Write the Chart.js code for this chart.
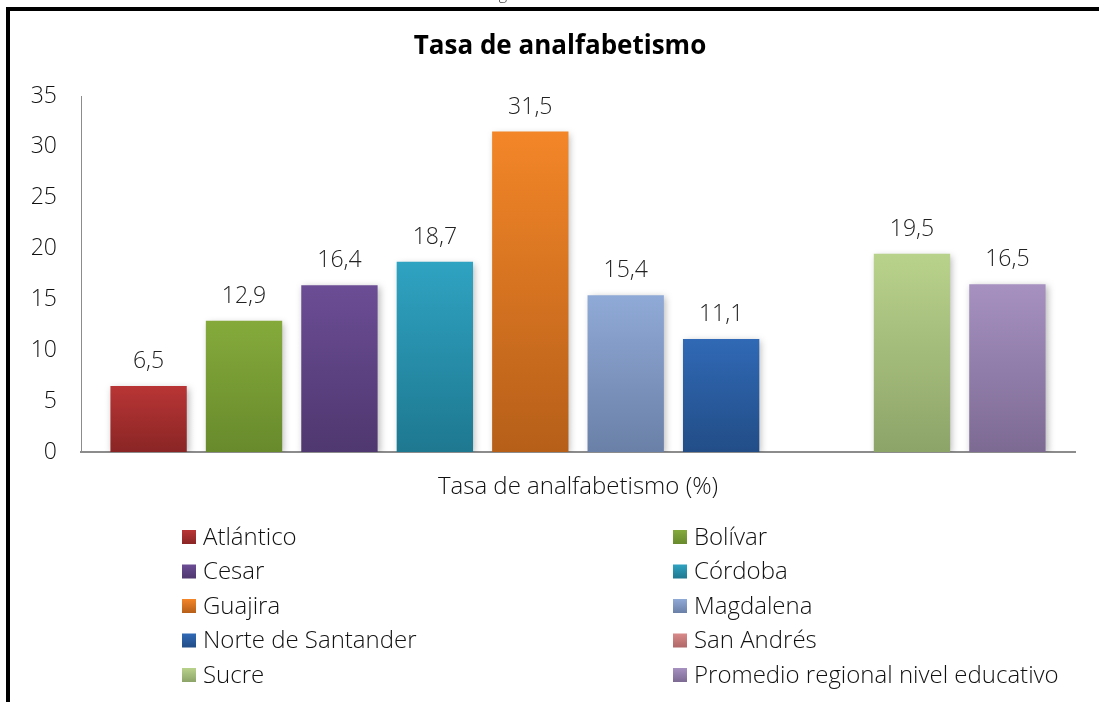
<!DOCTYPE html>
<html><head><meta charset="utf-8">
<script src="https://cdn.jsdelivr.net/npm/chart.js@4/dist/chart.umd.min.js"></script>
<style>html,body{margin:0;padding:0;background:#fff}#wrap{width:1099px;height:702px}</style>
</head><body><div id="wrap"><canvas id="c" width="1099" height="702"></canvas></div>
<script>
const categories = ["Tasa de analfabetismo (%)"];
const seriesNames = ["Atlántico","Bolívar","Cesar","Córdoba","Guajira","Magdalena","Norte de Santander","San Andrés","Sucre","Promedio regional nivel educativo"];
const seriesValues = [6.5, 12.9, 16.4, 18.7, 31.5, 15.4, 11.1, null, 19.5, 16.5];
const topColors = ["#b93535","#85aa3b","#6b4d95","#2fa3c2","#f38628","#90aad7","#3069b5","#d98a8a","#b9d28b","#a691c1"];
const bottomColors = ["#8a2525","#688a2c","#4f376f","#1e7890","#b65f19","#6a80a7","#224d87","#b06767","#8da469","#7d6a93"];
const yTicks = [0,5,10,15,20,25,30,35];
const titleText = "Tasa de analfabetismo";

const FONT = "'Open Sans', Lato, sans-serif";
const W = 300;

function grad(ctx, i, y0, y1){
  const g = ctx.createLinearGradient(0, y0, 0, y1);
  g.addColorStop(0, topColors[i]);
  g.addColorStop(1, bottomColors[i]);
  return g;
}

const datasets = seriesNames.map((n, i) => ({
  label: n,
  data: [seriesValues[i]],
  backgroundColor: (c) => {
    const ch = c.chart;
    const y = ch.scales && ch.scales.y;
    if (!ch.chartArea || !y || seriesValues[i] == null) return topColors[i];
    return grad(ch.ctx, i, y.getPixelForValue(seriesValues[i]), y.getPixelForValue(0));
  },
  borderWidth: 0,
  categoryPercentage: 0.96,
  barPercentage: 0.8
}));

const decor = {
  id: 'decor',
  beforeDraw(chart){
    const ctx = chart.ctx;
    ctx.save();
    ctx.fillStyle = '#fff';
    ctx.fillRect(0,0,chart.width,chart.height);
    ctx.fillStyle = '#000';
    ctx.fillRect(6, 7, chart.width - 6, 4);
    ctx.fillRect(6, 7, 4, chart.height - 7);
    ctx.fillStyle = '#444';
    ctx.font = W + " 16px " + FONT;
    ctx.textAlign = 'center';
    ctx.textBaseline = 'alphabetic';
    ctx.fillText('g', 503, -1);
    ctx.fillStyle = '#000';
    ctx.font = "bold 26px 'Open Sans', sans-serif";
    ctx.textBaseline = 'middle';
    ctx.fillText(titleText, 560, 47);
    ctx.restore();
  },
  beforeDatasetsDraw(chart){
    const ctx = chart.ctx;
    ctx.save();
    ctx.shadowColor = 'rgba(0,0,0,0.28)';
    ctx.shadowBlur = 7;
    ctx.shadowOffsetX = 2;
    ctx.shadowOffsetY = 2;
  },
  afterDatasetsDraw(chart){
    const ctx = chart.ctx;
    ctx.restore();
    ctx.save();
    ctx.fillStyle = '#222';
    ctx.font = W + " 23px " + FONT;
    ctx.textAlign = 'center';
    ctx.textBaseline = 'alphabetic';
    chart.data.datasets.forEach((ds, i) => {
      const v = ds.data[0];
      if (v == null) return;
      const el = chart.getDatasetMeta(i).data[0];
      ctx.fillText(String(v).replace('.', ','), el.x, el.y - 18);
    });
    ctx.restore();
  },
  afterDraw(chart){
    const ctx = chart.ctx;
    ctx.save();
    ctx.font = W + " 24px " + FONT;
    ctx.textBaseline = 'middle';
    ctx.textAlign = 'left';
    const cols = [182, 673];
    chart.data.datasets.forEach((ds, i) => {
      const x = cols[i % 2];
      const y = 537 + Math.floor(i / 2) * 34.5;
      ctx.fillStyle = grad(ctx, i, y - 7, y + 7);
      ctx.fillRect(x, y - 7, 14, 14);
      ctx.fillStyle = '#111';
      ctx.fillText(ds.label, x + 21, y + 1);
    });
    ctx.restore();
  }
};

new Chart(document.getElementById('c'), {
  type: 'bar',
  data: { labels: categories, datasets },
  options: {
    responsive: false,
    animation: false,
    layout: { padding: { top: 96, left: 10, right: 24, bottom: 190 } },
    plugins: { legend: { display: false }, title: { display: false }, tooltip: { enabled: false } },
    scales: {
      x: {
        grid: { display: false, drawTicks: false },
        border: { display: true, color: '#8c8c8c', width: 2 },
        ticks: { color: '#111', font: { family: FONT, size: 24, weight: W }, padding: 21 },
        afterFit(s){ s.height = 60; }
      },
      y: {
        min: 0, max: 35,
        afterBuildTicks(s){ s.ticks = yTicks.map(v => ({ value: v })); },
        grid: { display: false, drawTicks: false },
        border: { display: true, color: '#8c8c8c', width: 1 },
        ticks: { color: '#111', font: { family: FONT, size: 23, weight: W }, padding: 24 },
        afterFit(s){ s.width = 71; }
      }
    }
  },
  plugins: [decor]
});
</script>
</body></html>
